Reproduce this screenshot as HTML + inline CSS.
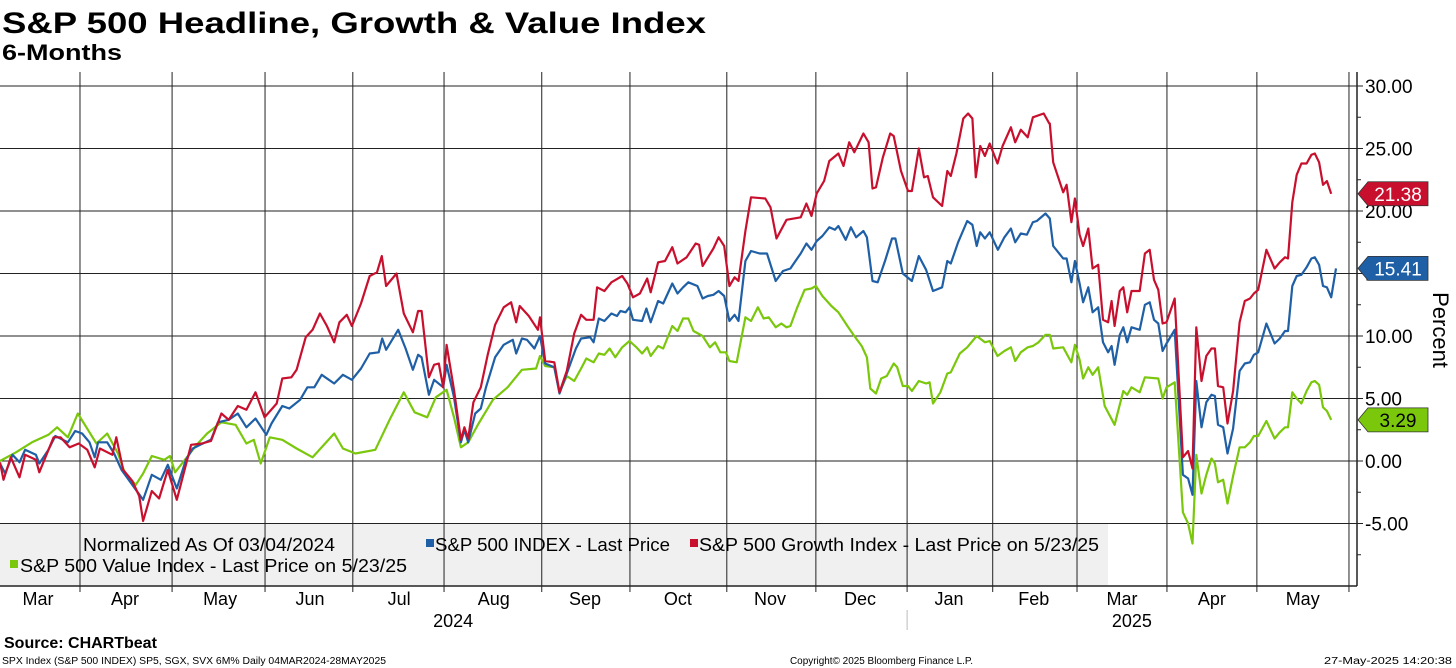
<!DOCTYPE html>
<html><head><meta charset="utf-8"><style>
html,body{margin:0;padding:0;background:#fff;}
svg{display:block;font-family:"Liberation Sans",sans-serif;}
</style></head><body>
<svg id="chart" width="1456" height="668" viewBox="0 0 1456 668">
<text x="2" y="33" font-size="30" font-weight="bold" textLength="704" lengthAdjust="spacingAndGlyphs">S&amp;P 500 Headline, Growth &amp; Value Index</text>
<text x="2" y="60" font-size="22" font-weight="bold" textLength="120" lengthAdjust="spacingAndGlyphs">6-Months</text>
<rect x="0" y="524" width="1108" height="62" fill="#f0f0f0"/>
<g id="grid"></g>
<g id="series"></g>
<g id="legend">
<text x="83" y="551" font-size="18" textLength="252" lengthAdjust="spacingAndGlyphs">Normalized As Of 03/04/2024</text>
<rect x="426" y="539" width="8" height="8" fill="#1f5fa6"/>
<text x="435" y="551" font-size="18" textLength="235" lengthAdjust="spacingAndGlyphs">S&amp;P 500 INDEX - Last Price</text>
<rect x="690" y="539" width="8" height="8" fill="#c8102e"/>
<text x="699" y="551" font-size="18" textLength="400" lengthAdjust="spacingAndGlyphs">S&amp;P 500 Growth Index - Last Price on 5/23/25</text>
<rect x="10" y="560" width="8" height="8" fill="#7ac70c"/>
<text x="20" y="572" font-size="18" textLength="387" lengthAdjust="spacingAndGlyphs">S&amp;P 500 Value Index - Last Price on 5/23/25</text>
</g>
<g id="axes"></g>
<text transform="translate(1433,330) rotate(90)" font-size="22" text-anchor="middle">Percent</text>
<text x="4" y="648" font-size="16" font-weight="bold">Source: CHARTbeat</text>
<text x="2" y="664" font-size="10" textLength="384" lengthAdjust="spacingAndGlyphs">SPX Index (S&amp;P 500 INDEX) SP5, SGX, SVX 6M% Daily 04MAR2024-28MAY2025</text>
<text x="790" y="664" font-size="10" textLength="183" lengthAdjust="spacingAndGlyphs">Copyright© 2025 Bloomberg Finance L.P.</text>
<text x="1452" y="664" font-size="10" text-anchor="end" textLength="128" lengthAdjust="spacingAndGlyphs">27-May-2025 14:20:38</text>
</svg>
<script>
const yTicks = [30, 25, 20, 15, 10, 5, 0, -5];
const yTickLabels = ["30.00","25.00","20.00","15.00","10.00","5.00","0.00","-5.00"];
const monthBoundaryDays = [18.5, 39.8, 61.3, 81.6, 102.7, 125.3, 145.7, 168.1, 188.7, 209.8, 229.6, 249.1, 269.9, 290.7, 312];
const monthLabels = ["Mar","Apr","May","Jun","Jul","Aug","Sep","Oct","Nov","Dec","Jan","Feb","Mar","Apr","May"];
const monthLabelDays = [8.8, 28.9, 50.9, 71.7, 92.3, 114.2, 135.3, 156.8, 178.1, 198.9, 219.5, 239.1, 259.5, 280.3, 301.3];
const yearLabels = ["2024","2025"];
const yearLabelDays = [104.8, 261.8];

const valueDays = [0,3.7,7.4,11.2,13.2,15.7,18.0,20.7,22.3,24.8,27.3,28.9,31.4,33.1,35.1,38.0,39.3,40.5,43.0,45.5,47.9,51.2,54.5,57.0,58.7,60.3,62.4,65.3,68.6,72.3,75.2,77.3,79.3,82.2,86.8,90.1,93.4,95.9,98.8,100.8,103.3,105.0,106.6,108.3,110.7,114.0,117.4,120.7,124.0,
124.9,126.1,128.2,129.4,131.1,132.8,134.4,135.6,137.3,138.5,139.8,141.0,142.3,143.9,145.6,147.2,148.5,149.7,150.5,152.2,153.4,155.5,156.7,158.0,159.2,160.4,162.5,164.2,165.4,166.6,167.9,168.7,170.4,172.4,173.7,175.3,176.6,177.8,179.4,180.7,181.9,182.8,184.4,186.1,187.7,188.7,190.2,192.3,193.9,196.0,197.6,199.3,200.5,201.3,202.6,203.8,205.1,206.7,207.5,208.8,210.0,210.9,212.5,214.2,215.0,215.8,217.5,219.1,219.9,222.0,223.7,225.9,227.8,228.9,230.7,232.3,233.8,234.8,236.1,237.7,238.9,240.2,241.8,
242.8,243.6,245.9,247.0,247.8,248.6,249.7,250.5,251.7,252.7,254.0,255.5,257.8,259.8,260.7,261.7,263.6,264.8,267.9,268.9,269.8,271.7,273.6,274.8,275.8,276.7,277.9,279.0,280.2,281.0,281.7,282.9,283.9,285.2,286.7,287.9,289.1,290.0,291.0,292.9,294.8,296.0,297.2,297.9,298.9,299.9,301.0,302.2,303.3,304.1,305.1,306.0,306.9,307.9];
const valueValues = [0.0,0.7,1.5,2.1,2.7,1.9,3.8,2.3,1.4,2.2,0.6,-1.0,-1.9,-1.0,0.4,0.1,0.4,-0.9,0.2,1.3,2.2,3.1,2.9,1.4,1.7,-0.2,1.9,1.7,1.0,0.3,1.4,2.2,1.0,0.6,0.9,3.3,5.5,3.9,3.5,5.1,5.7,3.5,1.1,1.5,3.0,4.9,5.9,7.3,7.4,
8.4,7.6,7.5,5.5,6.8,6.4,7.4,8.2,7.9,8.6,8.5,9.0,8.3,9.1,9.6,9.1,8.6,9.1,8.4,9.2,9.0,10.8,10.4,11.4,11.4,10.4,10.0,9.1,9.5,8.7,8.7,8.0,7.9,11.5,11.2,12.3,11.4,11.5,10.7,11.0,10.7,10.8,12.3,13.7,13.8,14.0,13.2,12.4,11.9,10.8,10.0,9.2,8.3,5.8,5.4,6.6,6.8,7.8,7.5,6.0,6.0,5.6,6.4,6.2,6.3,4.6,5.5,7.0,7.1,8.6,9.1,10.0,9.5,9.6,8.4,8.8,9.1,8.0,8.7,9.1,9.2,9.5,10.1,
10.1,9.0,9.1,8.4,7.9,9.3,8.1,6.6,7.5,6.9,7.5,4.4,2.9,5.6,5.3,5.9,5.5,6.7,6.6,5.0,5.9,6.3,-4.1,-5.0,-6.6,0.5,-2.6,-1.1,0.2,-0.2,-1.7,-1.5,-3.4,-1.2,1.1,1.1,1.5,2.0,2.0,3.2,1.8,2.3,2.7,2.7,5.5,5.0,4.6,5.6,6.3,6.4,6.1,4.3,4.0,3.29];

const spxDays = [0,1.2,2.9,4.5,5.8,8.3,9.1,11.2,12.8,15.7,17.4,19.0,20.7,21.9,22.7,24.8,26.4,28.1,30.6,33.1,35.1,37.2,38.8,40.9,43.0,44.6,46.3,48.8,50.4,52.9,55.0,57.0,59.1,61.6,62.8,65.3,66.9,69.4,71.1,72.7,74.4,77.3,79.3,81.4,83.5,85.5,87.6,88.4,89.3,92.1,93.8,95.5,96.7,97.5,99.2,100.4,102.5,103.3,105.0,106.6,107.4,108.3,109.9,111.2,112.4,114.5,116.5,118.6,119.4,120.7,121.9,123.6,
124.9,126.1,128.2,129.4,131.1,133.2,134.4,136.5,137.3,138.5,139.8,141.4,142.7,143.5,144.7,145.6,146.4,148.5,149.5,150.5,152.2,153.4,155.5,156.7,158.0,159.2,161.3,162.5,163.7,165.0,166.2,167.5,168.7,169.9,170.8,172.4,173.7,175.7,177.4,179.4,181.1,182.8,184.0,185.2,186.5,187.7,188.9,190.2,191.8,193.1,193.9,195.6,196.8,198.0,199.7,200.5,201.8,203.0,204.7,206.3,207.1,208.8,210.9,212.5,214.2,215.8,217.9,219.1,219.9,221.6,223.7,224.9,225.9,226.7,227.8,228.9,230.8,232.3,233.8,234.8,236.1,237.5,238.9,239.8,241.8,
242.8,243.6,245.9,246.7,247.8,248.6,249.7,250.5,251.7,252.7,254.0,255.1,256.3,257.1,257.8,259.0,259.8,260.7,261.7,263.6,264.8,265.9,266.9,267.9,268.9,269.8,271.7,273.6,274.8,275.8,276.7,277.9,279.0,280.2,281.0,281.7,282.9,283.9,285.2,286.7,287.9,289.1,290.0,291.0,292.9,294.8,296.0,297.2,297.9,298.9,299.9,301.0,302.2,303.3,304.1,305.1,306.0,306.9,307.9,309.0];
const spxValues = [-0.2,-1.0,0.5,-0.1,0.9,0.5,-0.2,0.9,2.0,1.5,2.4,2.2,1.5,0.3,1.5,1.5,0.6,-0.7,-1.9,-3.1,-1.1,-1.5,-0.3,-2.2,0.1,1.0,1.3,1.7,3.1,3.3,3.8,2.7,3.4,2.1,3.0,4.4,4.2,4.9,5.9,5.9,6.9,6.2,6.9,6.5,7.4,8.6,8.7,9.8,8.9,10.5,9.0,7.3,8.5,8.3,5.3,6.5,5.9,7.7,5.1,1.5,2.5,1.5,3.8,4.2,5.9,8.3,9.3,9.7,8.6,9.8,9.7,9.0,
10.0,7.8,7.5,5.4,7.0,9.0,9.8,9.9,9.5,11.4,11.2,11.8,11.6,12.0,11.9,12.3,11.3,11.2,12.2,11.1,12.8,12.6,14.2,13.4,13.9,14.3,14.0,13.0,13.2,13.3,13.6,13.2,11.2,11.7,11.2,16.0,16.8,16.6,16.6,14.4,15.2,15.4,16.0,16.6,17.4,16.9,17.6,18.0,18.7,18.5,18.8,17.7,18.7,17.9,18.4,17.9,14.4,14.3,16.0,17.8,17.8,15.0,14.4,16.4,15.3,13.6,13.9,16.0,15.8,17.5,19.2,18.9,17.2,18.3,17.8,18.3,16.9,17.9,18.6,17.5,18.2,18.1,19.1,19.2,19.8,
19.4,17.2,16.2,16.2,14.3,16.0,14.2,12.7,13.9,11.9,12.3,9.5,8.7,9.2,7.7,10.1,10.7,9.5,10.7,10.5,12.5,12.7,11.3,11.0,8.8,9.4,10.5,-1.1,-1.4,-2.7,6.4,2.7,4.7,5.3,5.2,2.9,2.7,0.6,2.6,7.2,7.8,7.9,8.5,8.7,11.0,9.4,9.8,10.4,10.4,14.0,14.8,14.9,15.5,16.2,16.3,15.7,14.0,13.9,13.1,15.41];

const growthDays = [0,0.8,2.5,4.5,5.8,8.3,9.1,12.4,14.0,16.1,18.2,20.2,21.9,23.1,26.0,26.9,28.5,30.6,32.2,33.1,35.1,36.8,38.8,40.9,44.2,46.7,48.8,51.2,52.9,55.0,57.0,59.1,61.2,64.0,65.3,67.4,68.6,70.7,72.3,74.0,75.6,77.3,78.5,80.2,81.4,83.5,85.5,87.2,88.3,89.3,91.7,93.4,95.5,96.7,97.5,99.2,100.4,101.5,102.5,103.3,105.0,106.6,107.4,108.3,109.5,111.2,112.8,114.5,116.5,118.2,119.4,120.2,122.3,124.4,
124.9,126.1,128.2,129.4,131.1,132.8,134.4,135.6,137.3,138.1,139.8,141.4,143.9,145.1,146.4,148.0,149.7,150.5,152.2,153.8,155.5,156.7,158.8,160.9,161.7,162.5,165.0,166.2,167.5,168.7,169.9,170.8,172.4,173.7,177.0,178.2,179.6,181.9,185.2,186.5,187.7,188.9,190.6,191.8,193.9,195.1,196.4,197.6,199.7,200.9,201.8,202.6,204.2,205.9,206.7,208.4,210.0,210.9,212.5,213.7,214.6,215.8,217.9,219.1,219.9,221.2,222.8,223.9,224.9,225.7,226.7,227.8,228.9,230.7,231.9,233.8,234.8,236.1,237.7,238.9,241.4,242.7,
242.8,243.6,245.9,246.7,247.8,248.6,249.7,250.5,251.7,252.7,254.0,255.1,256.3,257.1,257.8,259.0,259.8,260.7,261.7,263.6,264.8,265.9,266.9,267.9,268.9,269.8,271.7,273.6,274.8,275.8,276.7,277.9,279.0,280.2,281.0,281.7,282.9,283.9,285.2,286.7,287.9,289.1,290.0,291.0,292.9,294.8,296.0,297.2,297.9,298.9,299.9,301.0,302.2,303.3,304.1,305.1,306.0,306.9,307.9];
const growthValues = [-0.1,-1.5,0.3,-1.3,0.5,0.1,-0.9,1.9,1.9,1.1,1.4,0.9,-0.5,1.0,0.5,1.9,-0.7,-1.6,-2.8,-4.8,-2.4,-3.0,-0.7,-3.1,1.3,1.4,1.6,3.8,3.3,4.4,4.1,5.5,3.5,4.6,6.6,6.7,7.3,9.9,10.5,11.8,10.8,9.5,11.1,11.7,10.8,12.6,14.8,15.1,16.4,14.0,15.0,11.8,10.3,12.0,12.0,6.7,7.7,7.8,5.9,9.3,5.7,1.7,2.7,1.8,4.7,5.9,8.5,10.9,12.3,12.7,11.1,12.4,11.6,10.5,
11.5,8.0,7.9,5.5,7.2,10.2,11.7,11.3,11.3,13.9,13.6,14.3,14.8,14.2,13.1,13.4,14.6,13.5,15.9,16.0,17.1,15.8,16.3,17.4,17.3,15.6,17.0,17.9,17.2,14.0,14.7,14.4,18.4,21.1,21.0,20.3,17.8,19.3,19.5,20.6,19.6,21.4,22.4,24.0,24.6,23.6,25.5,24.7,26.2,25.5,21.8,21.9,24.3,26.2,26.0,23.2,21.6,21.6,25.0,22.7,22.8,21.1,20.4,23.2,22.8,24.6,27.4,27.8,27.4,22.7,25.2,24.4,25.4,23.8,25.2,26.7,25.5,26.5,25.9,27.5,27.8,27.0,
27.0,23.9,21.5,22.1,19.1,21.0,18.1,17.2,18.6,15.4,15.7,11.3,11.1,12.8,10.8,13.6,13.9,11.9,13.6,13.6,16.6,16.9,14.5,13.7,11.0,11.1,13.0,0.3,0.8,-0.6,10.7,6.4,8.4,9.0,9.0,6.0,5.9,3.0,5.6,11.1,12.8,13.0,13.4,13.7,16.9,15.4,15.9,16.3,16.2,20.7,22.9,23.8,23.8,24.5,24.6,23.9,22.1,22.4,21.38];

const NS = "http://www.w3.org/2000/svg";
const plotLeft = 0, plotRight = 1336, dayMax = 309;
const axisX = 1357, gridRight = 1357, plotTop = 72, plotBottom = 586;
function xScale(d) { return plotLeft + d / dayMax * (plotRight - plotLeft); }
function yScale(v) { return 461 - v * 12.5; }
function mk(tag, attrs, parent) {
  const el = document.createElementNS(NS, tag);
  for (const k in attrs) el.setAttribute(k, attrs[k]);
  parent.appendChild(el);
  return el;
}
const grid = document.getElementById('grid');
const axes = document.getElementById('axes');
const series = document.getElementById('series');

yTicks.forEach((t, i) => {
  const y = yScale(t);
  const gl = mk('line', {x1: 0, x2: gridRight, y1: y, y2: y, stroke: '#222', 'stroke-width': 1}, grid);
  
  
  const tk = mk('line', {x1: axisX, x2: axisX + 6, y1: y, y2: y, stroke: '#222', 'stroke-width': 1}, axes);
  
  
  const lb = mk('text', {x: 1365, y: y + 7, 'font-size': 19}, axes);
  lb.textContent = yTickLabels[i];
  
  
});
for (let v = -7.5; v <= 27.5; v += 5) {
  const y = yScale(v);
  const mt = mk('line', {x1: axisX, x2: axisX + 4, y1: y, y2: y, stroke: '#222', 'stroke-width': 1}, axes);
  
  
}
monthBoundaryDays.forEach(d => {
  const x = xScale(d);
  const vl = mk('line', {x1: x, x2: x, y1: plotTop, y2: plotBottom + 6, stroke: '#222', 'stroke-width': 1}, grid);
  
  
});
const base = mk('line', {x1: 0, x2: axisX, y1: plotBottom, y2: plotBottom, stroke: '#222', 'stroke-width': 1.5}, axes);


const yAxis = mk('line', {x1: axisX, x2: axisX, y1: plotTop, y2: plotBottom, stroke: '#222', 'stroke-width': 1.5}, axes);


monthLabels.forEach((m, i) => {
  const t = mk('text', {x: xScale(monthLabelDays[i]), y: 605, 'font-size': 18, 'text-anchor': 'middle'}, axes);
  t.textContent = m;
  
  
});
yearLabels.forEach((yl, i) => {
  const t = mk('text', {x: xScale(yearLabelDays[i]), y: 627, 'font-size': 18, 'text-anchor': 'middle'}, axes);
  t.textContent = yl;
  
  
});
const sep = mk('line', {x1: xScale(209.8), x2: xScale(209.8), y1: 610, y2: 630, stroke: '#bbb', 'stroke-width': 1}, axes);



function drawSeries(days, vals, color, name) {
  const d = days.map((dd, i) => (i ? 'L' : 'M') + xScale(dd).toFixed(1) + ',' + yScale(vals[i]).toFixed(1)).join(' ');
  const p = mk('path', {d: d, fill: 'none', stroke: color, 'stroke-width': 2.2, 'stroke-linejoin': 'round'}, series);
  
  
}
drawSeries(valueDays, valueValues, '#7ac70c', 'value-index-line');
drawSeries(spxDays, spxValues, '#1f5fa6', 'spx-index-line');
drawSeries(growthDays, growthValues, '#c8102e', 'growth-index-line');

function tag(val, color, textColor, name) {
  const y = yScale(val);
  const g = mk('g', {}, axes);
  
  
  mk('polygon', {points: `1358,${y} 1368,${y-12} 1428,${y-12} 1428,${y+12} 1368,${y+12}`, fill: color, stroke: '#333', 'stroke-width': 0.8}, g);
  const t = mk('text', {x: 1398, y: y + 7, 'font-size': 19, 'text-anchor': 'middle', fill: textColor}, g);
  t.textContent = val.toFixed(2);
}
tag(growthValues[growthValues.length - 1], '#c8102e', '#fff', 'growth-last-value-tag');
tag(spxValues[spxValues.length - 1], '#1f5fa6', '#fff', 'spx-last-value-tag');
tag(valueValues[valueValues.length - 1], '#7ac70c', '#000', 'value-last-value-tag');
</script>
</body></html>
